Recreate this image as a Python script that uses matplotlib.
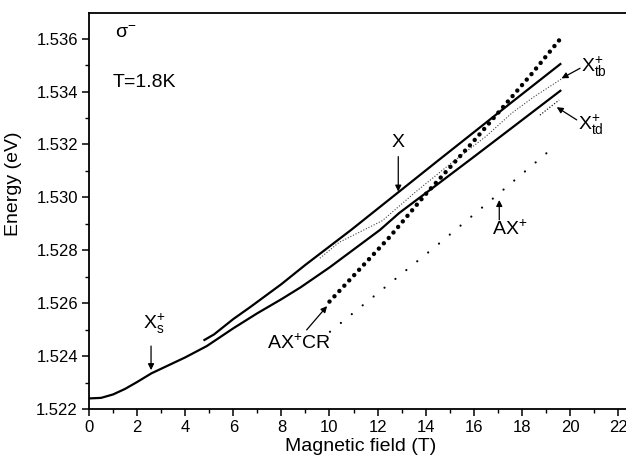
import matplotlib
matplotlib.use("Agg")
import matplotlib.pyplot as plt

plt.rcParams['font.family'] = ['Liberation Sans', 'DejaVu Sans']
plt.rcParams['mathtext.fontset'] = 'custom'
plt.rcParams['mathtext.rm'] = 'Liberation Sans'
plt.rcParams['mathtext.it'] = 'Liberation Sans'
plt.rcParams['mathtext.sf'] = 'Liberation Sans'
plt.rcParams['mathtext.default'] = 'regular'

# courbe basse (X_s+), trait plein
xs_field = [0, 0.5, 1.0, 1.5, 2.0, 2.6, 3.3, 4.0, 4.9, 6.0, 7.0, 8.0, 8.8, 10.0, 12.1, 12.9,
            14.5, 16.0, 17.5, 19.6]
xs_energy = [1.52240, 1.52242, 1.52255, 1.52276, 1.52302, 1.52335, 1.52365, 1.52395, 1.52438,
             1.52505, 1.52562, 1.52615, 1.52660, 1.52735, 1.52877, 1.52941, 1.53050, 1.53153,
             1.53257, 1.53403]

# exciton X, trait plein haut
x_field = [4.8, 5.2, 6.0, 6.7, 8.0, 9.0, 10.9, 12.9, 14.5, 16.0, 17.5, 19.6]
x_energy = [1.52461, 1.52482, 1.52540, 1.52585, 1.52672, 1.52745, 1.52877, 1.53022, 1.53138,
            1.53246, 1.53354, 1.53504]

# X_tb+, pointillé fin
xtb_field = [9.6, 10.4, 12.2, 13.6, 15.0, 16.5, 17.6, 18.5, 19.7]
xtb_energy = [1.52770, 1.52830, 1.52912, 1.53022, 1.53125, 1.53230, 1.53320, 1.53380, 1.53451]

# X_td+, petit segment pointillé
xtd_field = [18.75, 19.55]
xtd_energy = [1.53311, 1.53368]

# AX+CR, gros points
cr_field = [10.0, 12.5, 14.0, 16.0, 18.4, 19.56]
cr_energy = [1.52606, 1.52850, 1.53012, 1.53213, 1.53466, 1.53595]

# AX+, petits points
ax_field = [10.02, 14.46, 17.05, 19.31]
ax_energy = [1.52492, 1.52818, 1.53015, 1.53189]

fig = plt.figure(figsize=(6.26, 4.59), dpi=100)
ax = fig.add_axes([89 / 626, 50 / 459, 537 / 626, 396 / 459])

ax.plot(xs_field, xs_energy, color='black', lw=1.6)
ax.plot(x_field, x_energy, color='black', lw=1.6)
ax.plot(xtb_field, xtb_energy, color='#444444', lw=0.8, linestyle=(0, (1, 1.6)))
ax.plot(xtd_field, xtd_energy, color='#222222', lw=0.9, linestyle=(0, (1, 1.4)))
ax.plot(cr_field, cr_energy, color='black', lw=3.2, linestyle=(0, (0.01, 1.62)),
        dash_capstyle='round')
ax.plot(ax_field, ax_energy, color='black', lw=1.6, linestyle=(0, (0.01, 6.3)),
        dash_capstyle='round')

ax.set_xlim(0, 22.33)
ax.set_ylim(1.522, 1.53697)
ax.set_xticks(range(0, 23, 2))
ax.set_xticks(range(1, 23, 2), minor=True)
ax.set_yticks([1.522, 1.524, 1.526, 1.528, 1.530, 1.532, 1.534, 1.536])
ax.set_yticks([1.523, 1.525, 1.527, 1.529, 1.531, 1.533, 1.535], minor=True)
ax.yaxis.set_major_formatter(matplotlib.ticker.FormatStrFormatter('%.3f'))

ax.spines['right'].set_visible(False)
for s in ['left', 'bottom', 'top']:
    ax.spines[s].set_linewidth(1.3)
ax.tick_params(which='major', direction='out', length=5, width=1.1, labelsize=12, pad=3)
ax.tick_params(which='minor', direction='out', length=3, width=1.0)
ax.tick_params(top=False, right=False)

ax.set_xlabel('Magnetic field (T)', fontsize=14)
ax.set_ylabel('Energy (eV)', fontsize=14)
ax.xaxis.set_label_coords(0.505, -0.072)
ax.yaxis.set_label_coords(-0.125, 0.57)

fs = 14
ax.text(1.08, 1.53603, r'$\sigma^{-}$', fontsize=fs, ha='left', va='baseline')
ax.text(1.0, 1.53416, 'T=1.8K', fontsize=14, ha='left', va='baseline')

arrow = dict(arrowstyle='-|>', lw=0.9, color='black', mutation_scale=9, shrinkA=0, shrinkB=0)

ax.text(12.86, 1.53192, 'X', fontsize=fs, ha='center', va='baseline')
ax.annotate('', xy=(12.86, 1.53022), xytext=(12.86, 1.53154), arrowprops=arrow)

ax.text(2.25, 1.52505, r'X$_{\rm s}^{+}$', fontsize=fs, ha='left', va='baseline')
ax.annotate('', xy=(2.58, 1.52347), xytext=(2.58, 1.52438), arrowprops=arrow)

ax.text(7.39, 1.52429, r'AX$^{+}$CR', fontsize=fs, ha='left', va='baseline')
ax.annotate('', xy=(9.9, 1.52589), xytext=(9.05, 1.52499), arrowprops=arrow)

ax.text(16.74, 1.52858, r'AX$^{+}$', fontsize=fs, ha='left', va='baseline')
ax.annotate('', xy=(17.06, 1.52990), xytext=(17.06, 1.52915), arrowprops=arrow)

ax.text(20.46, 1.53475, r'X$_{\rm tb}^{+}$', fontsize=fs, ha='left', va='baseline')
ax.annotate('', xy=(19.65, 1.53450), xytext=(20.42, 1.53488), arrowprops=arrow)

ax.text(20.33, 1.53257, r'X$_{\rm td}^{+}$', fontsize=fs, ha='left', va='baseline')
ax.annotate('', xy=(19.45, 1.53341), xytext=(20.28, 1.53293), arrowprops=arrow)

fig.savefig('out.png', dpi=100)
